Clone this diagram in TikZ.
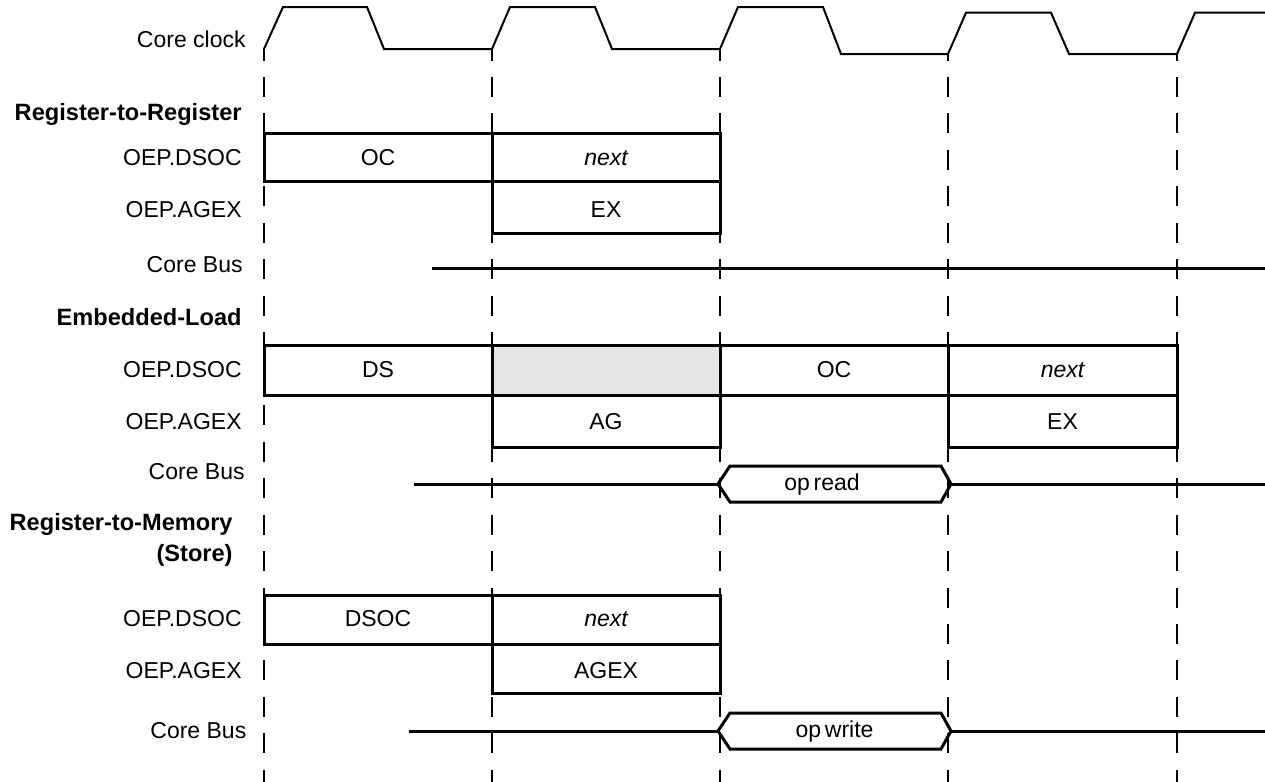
\documentclass[tikz,border=0pt]{standalone}
\usepackage{fontspec}
\setmainfont{Liberation Sans}
\begin{document}
\begin{tikzpicture}[x=0.5pt,y=-0.5pt,
  lbl/.style={anchor=base east,inner sep=0pt,font=\fontsize{11.5}{13}\selectfont},
  ttl/.style={anchor=base east,inner sep=0pt,font=\fontsize{11.8}{13}\selectfont\bfseries},
  btxt/.style={anchor=base,inner sep=0pt,font=\fontsize{11.5}{13}\selectfont},
  itxt/.style={anchor=base,inner sep=0pt,font=\fontsize{11.5}{13}\selectfont\itshape},
  stage/.style={line width=1.5pt},
  idle/.style={line width=1.5pt,fill=black!10},
  gridln/.style={line width=1.1pt,dash pattern=on 10pt off 8.235pt},
  clk/.style={line width=1pt,line join=miter},
  bus/.style={line width=1.5pt},
  hexa/.style={line width=1.5pt,line join=miter}]

\useasboundingbox (0,0) rectangle (1265,782);

% cycle boundaries
\foreach \x/\y/\ph in {264/49/4.25,492/49/4.25,720/49/4.25,948/54/6.75,1177/54/6.75}
  \draw[gridln,dash phase=\ph pt] (\x,\y) -- (\x,782);

% core clock
\draw[clk] (264,49) -- (283,7) -- (367,7) -- (384,49) -- (492,49)
  -- (510,7) -- (595,7) -- (612,49) -- (720,49)
  -- (738,7) -- (823,7) -- (841,54) -- (948,54)
  -- (966,12.7) -- (1051,12.7) -- (1069,54) -- (1177,54)
  -- (1195,12.7) -- (1265,12.7);
\node[lbl] (lclk) at (246,47.5) {Core clock};

% ---------- Register-to-Register ----------
\node[ttl] (t1) at (242,120.7) {Register-to-Register};
\node[lbl] (l1a) at (242,165) {OEP.DSOC};
\node[lbl] (l1b) at (242,217.3) {OEP.AGEX};
\node[lbl] (l1c) at (243,272.7) {Core Bus};
\draw[stage] (264,133) rectangle (492,181);
\draw[stage] (492,133) rectangle (720,181);
\draw[stage] (492,181) rectangle (720,233);
\node[btxt] (b1oc) at (378,165) {OC};
\node[itxt] (b1nx) at (606,165) {next};
\node[btxt] (b1ex) at (606,217.3) {EX};
\coordinate (bus1s) at (432,268);
\coordinate (bus1e) at (1265,268);
\draw[bus] (bus1s) -- (bus1e);

% ---------- Embedded-Load ----------
\node[ttl] (t2) at (242,325.7) {Embedded-Load};
\node[lbl] (l2a) at (242,377.7) {OEP.DSOC};
\node[lbl] (l2b) at (242,429.3) {OEP.AGEX};
\node[lbl] (l2c) at (245,479.3) {Core Bus};
\draw[stage] (264,345) rectangle (492,395);
\draw[idle] (492,345) rectangle (720,395);
\draw[stage] (720,345) rectangle (948,395);
\draw[stage] (948,345) rectangle (1177,395);
\draw[stage] (492,395) rectangle (720,447);
\draw[stage] (948,395) rectangle (1177,447);
\node[btxt] (b2ds) at (378,377.7) {DS};
\node[btxt] (b2oc) at (834,377.7) {OC};
\node[itxt] (b2nx) at (1062.5,377.7) {next};
\node[btxt] (b2ag) at (606,429.3) {AG};
\node[btxt] (b2ex) at (1062.5,429.3) {EX};
\coordinate (bus2s) at (414,484);
\coordinate (rdL) at (718,484);
\coordinate (rdR) at (951,484);
\coordinate (bus2e) at (1265,484);
\draw[bus] (bus2s) -- (rdL);
\draw[hexa] (rdL) -- (730,466) -- (941,466) -- (rdR) -- (941,502) -- (730,502) -- cycle;
\draw[bus] (rdR) -- (bus2e);
\node[btxt] (oprd) at (822,490) {op\,read};

% ---------- Register-to-Memory ----------
\node[ttl] (t3a) at (233,530) {Register-to-Memory};
\node[ttl] (t3b) at (233,561.7) {(Store)};
\node[lbl] (l3a) at (242,626) {OEP.DSOC};
\node[lbl] (l3b) at (242,678.3) {OEP.AGEX};
\node[lbl] (l3c) at (246.7,738.3) {Core Bus};
\draw[stage] (264,595) rectangle (492,644);
\draw[stage] (492,595) rectangle (720,644);
\draw[stage] (492,644) rectangle (720,693);
\node[btxt] (b3ds) at (378,626) {DSOC};
\node[itxt] (b3nx) at (606,626) {next};
\node[btxt] (b3ag) at (606,678.3) {AGEX};
\coordinate (bus3s) at (409,731);
\coordinate (wrL) at (718,731);
\coordinate (wrR) at (951,731);
\coordinate (bus3e) at (1265,731);
\draw[bus] (bus3s) -- (wrL);
\draw[hexa] (wrL) -- (730,713) -- (941,713) -- (wrR) -- (941,749) -- (730,749) -- cycle;
\draw[bus] (wrR) -- (bus3e);
\node[btxt] (opwr) at (834.5,737.3) {op\,write};
\end{tikzpicture}
\end{document}
